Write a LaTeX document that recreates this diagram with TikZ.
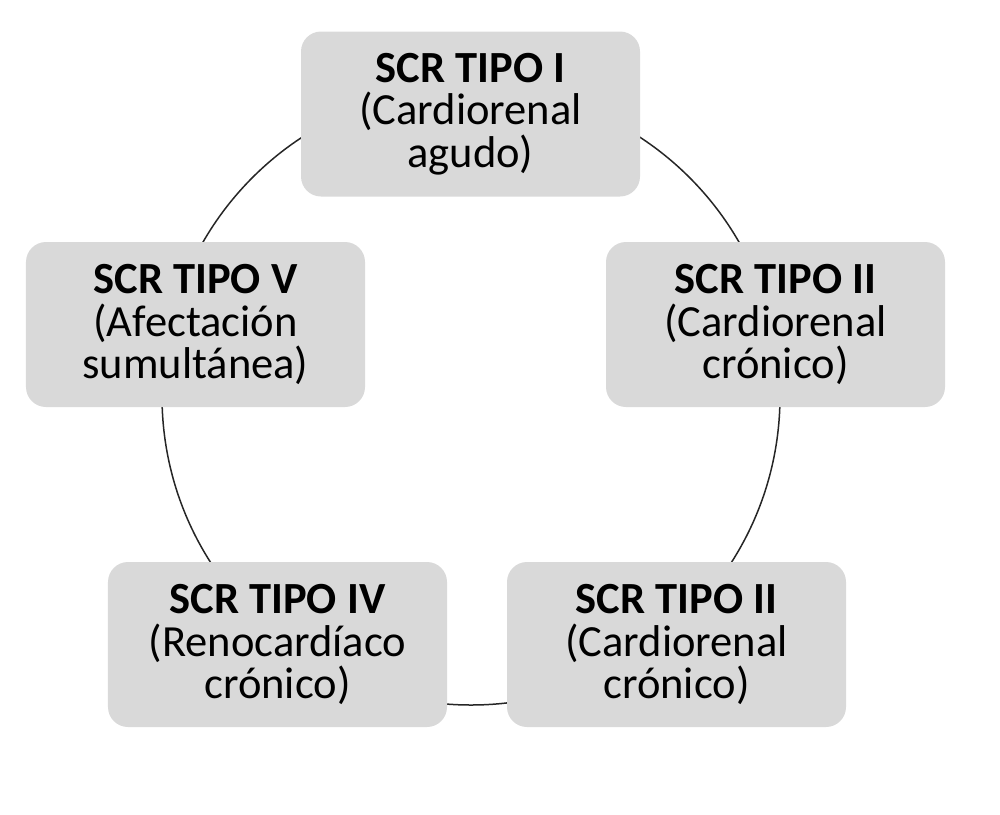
\documentclass[tikz,border=0pt]{standalone}
\usepackage{fontspec}
\setmainfont{Carlito}

\begin{document}
\begin{tikzpicture}[x=0.3mm,y=-0.3mm,
	scrbox/.style={fill=black!15,rounded corners=6mm,minimum width=101.7mm,minimum height=49.5mm,align=center,font=\fontsize{38}{36.3}\selectfont}]
	\useasboundingbox (0,0) rectangle (1000,814);
	\coordinate (mid) at (471,396);
	\draw [black!85,line width=0.45mm] (mid) circle [radius=92.7mm];
	\node [scrbox] (tipoI) at (470.5,114) {\textbf{SCR TIPO I}\\(Cardiorenal\\agudo)};
	\node [scrbox] (tipoII) at (775.5,324.5) {\textbf{SCR TIPO II}\\(Cardiorenal\\crónico)};
	\node [scrbox] (tipoIII) at (676.5,644.5) {\textbf{SCR TIPO II}\\(Cardiorenal\\crónico)};
	\node [scrbox] (tipoIV) at (277.5,644.5) {\textbf{SCR TIPO IV}\\(Renocardíaco\\crónico)};
	\node [scrbox] (tipoV) at (195.5,324.5) {\textbf{SCR TIPO V}\\(Afectación\\sumultánea)};
\end{tikzpicture}
\end{document}
